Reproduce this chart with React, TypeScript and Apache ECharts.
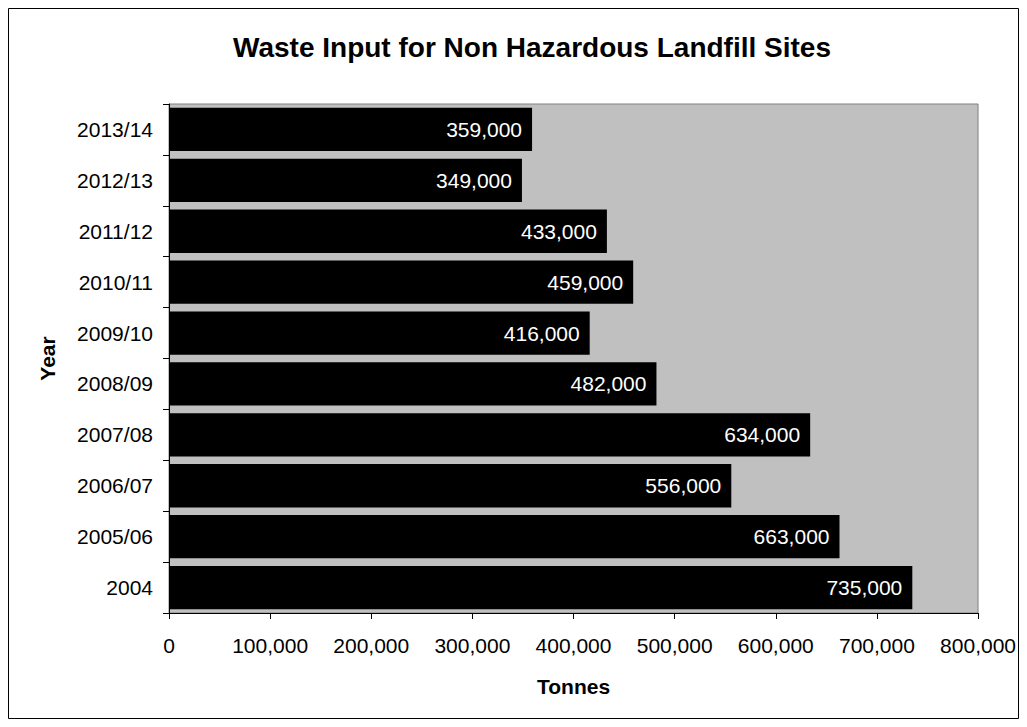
import React, { useEffect, useRef } from "react";
import * as echarts from "echarts";

const categories = ["2004", "2005/06", "2006/07", "2007/08", "2008/09", "2009/10", "2010/11", "2011/12", "2012/13", "2013/14"];
const tonnes = [735000, 663000, 556000, 634000, 482000, 416000, 459000, 433000, 349000, 359000];
const titleText = "Waste Input for Non Hazardous Landfill Sites";
const xAxisName = "Tonnes";
const yAxisName = "Year";

const fmt = (v: number) => v.toLocaleString("en-US");
const FONT = "Arial, 'Liberation Sans', Helvetica, sans-serif";

export default function App() {
  const ref = useRef<HTMLDivElement>(null);
  useEffect(() => {
    if (!ref.current) return;
    const chart = echarts.init(ref.current, null, { renderer: "svg" });
    chart.setOption({
      animation: false,
      backgroundColor: "#ffffff",
      graphic: [
        {
          type: "rect",
          shape: { x: 0.5, y: 0.5, width: 1010, height: 710 },
          style: { fill: "none", stroke: "#000", lineWidth: 1 },
          silent: true,
        },
        {
          type: "text",
          x: 524,
          y: 39,
          style: {
            text: titleText,
            textAlign: "center",
            textVerticalAlign: "middle",
            fontFamily: FONT,
            fontSize: 28,
            fontWeight: "bold",
            fill: "#000",
          },
        },
      ],
      grid: {
        left: 161,
        top: 96,
        right: 40,
        bottom: 106,
        show: true,
        backgroundColor: "#C0C0C0",
        borderColor: "#808080",
        borderWidth: 1,
      },
      xAxis: {
        type: "value",
        min: 0,
        max: 800000,
        interval: 100000,
        name: xAxisName,
        nameLocation: "middle",
        nameGap: 63,
        nameTextStyle: { fontFamily: FONT, fontSize: 21, fontWeight: "bold", color: "#000" },
        axisLine: { show: true, lineStyle: { color: "#000", width: 1 } },
        axisTick: { show: true, length: 6, lineStyle: { color: "#000" } },
        axisLabel: { formatter: (v: number) => fmt(v), margin: 22, fontFamily: FONT, fontSize: 21, color: "#000" },
        splitLine: { show: false },
      },
      yAxis: {
        type: "category",
        data: categories,
        name: yAxisName,
        nameLocation: "middle",
        nameGap: 111,
        nameRotate: 90,
        nameTextStyle: { fontFamily: FONT, fontSize: 21, fontWeight: "bold", color: "#000" },
        axisLine: { show: true, lineStyle: { color: "#000", width: 1 } },
        axisTick: { show: true, length: 6, lineStyle: { color: "#000" } },
        axisLabel: { margin: 16, fontFamily: FONT, fontSize: 21, color: "#000" },
        splitLine: { show: false },
      },
      series: [
        {
          type: "bar",
          data: tonnes,
          barCategoryGap: "15%",
          itemStyle: { color: "#000000" },
          label: {
            show: true,
            position: "insideRight",
            distance: 10,
            formatter: (p: any) => fmt(p.value),
            color: "#ffffff",
            fontFamily: FONT,
            fontSize: 21,
          },
        },
      ],
    });
    return () => chart.dispose();
  }, []);
  return <div ref={ref} style={{ width: 1011, height: 711 }} />;
}
